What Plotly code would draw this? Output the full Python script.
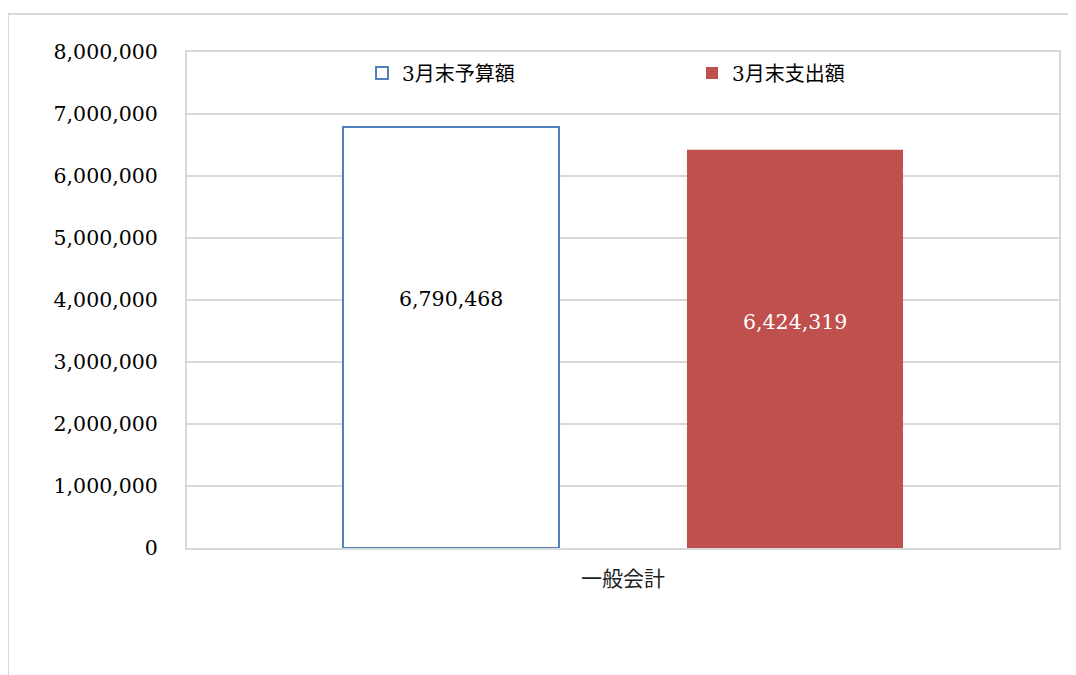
import plotly.graph_objects as go

categories = ["一般会計"]
series_names = ["3月末予算額", "3月末支出額"]
budget = [6790468]
spending = [6424319]
y_ticks = [0, 1000000, 2000000, 3000000, 4000000, 5000000, 6000000, 7000000, 8000000]

FONT = "DejaVu Serif, Noto Sans CJK JP, sans-serif"
GRID = "#d9d9d9"
BLUE = "#4f81bd"
RED = "#c0504d"
BARGAP = 0.211

fig = go.Figure()
fig.add_trace(go.Bar(
    name=series_names[0], x=categories, y=budget,
    marker=dict(color="white", line=dict(color=BLUE, width=2)),
))
fig.add_trace(go.Bar(
    name=series_names[1], x=categories, y=spending,
    marker=dict(color=RED, line=dict(width=0)),
))

# value labels (placed via axis coordinates, nudged up like the original)
slot = (1 - BARGAP) / 2
label_colors = ["black", "white"]
label_shift = [39, 27]
for j, vals in enumerate([budget, spending]):
    for i, v in enumerate(vals):
        fig.add_annotation(
            x=i + (j - 0.5) * slot, y=v / 2, xref="x", yref="y",
            text=f"{v:,}", showarrow=False, yshift=label_shift[j],
            font=dict(family=FONT, size=20.5, color=label_colors[j]),
        )

# outer chart frame
fig.add_shape(type="line", xref="paper", yref="paper",
              x0=-0.2053, x1=-0.2053, y0=-0.5, y1=1.0766,
              line=dict(color=GRID, width=2))
fig.add_shape(type="line", xref="paper", yref="paper",
              x0=-0.2053, x1=1.2, y0=1.0766, y1=1.0766,
              line=dict(color=GRID, width=2))

fig.update_layout(
    width=1068, height=667,
    margin=dict(l=179, r=17, t=44, b=127),
    paper_bgcolor="white", plot_bgcolor="white",
    barmode="group", bargap=BARGAP, bargroupgap=0.372,
    font=dict(family=FONT, size=20, color="black"),
    showlegend=True,
    legend=dict(
        orientation="h", x=0.2007, xanchor="left", y=0.9577, yanchor="middle",
        entrywidth=285, font=dict(family=FONT, size=20), bgcolor="rgba(0,0,0,0)",
        traceorder="normal",
    ),
    xaxis=dict(
        showgrid=False, showline=True, mirror=True, linecolor=GRID, linewidth=2,
        ticks="", ticklabelstandoff=11,
        tickfont=dict(family="Noto Sans CJK JP", size=21, color="#222"),
    ),
    yaxis=dict(
        range=[0, 8000000], tickvals=y_ticks,
        ticktext=[f"{t:,}" for t in y_ticks],
        showgrid=True, gridcolor=GRID, gridwidth=2,
        showline=True, mirror=True, linecolor=GRID, linewidth=2,
        ticks="", ticklabelstandoff=23, zeroline=False,
        tickfont=dict(family=FONT, size=20.5, color="black"),
    ),
)

fig.write_html("out.html")
